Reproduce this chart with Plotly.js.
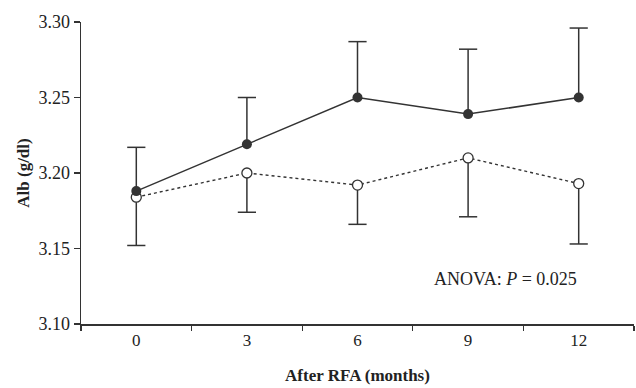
<!DOCTYPE html>
<html>
<head>
<meta charset="utf-8">
<script src="https://cdn.plot.ly/plotly-3.0.1.min.js"></script>
<style>html,body{margin:0;padding:0;background:#fff;}#chart{width:636px;height:388px;}</style>
</head>
<body>
<div id="chart"></div>
<script>
const months = ["0", "3", "6", "9", "12"];
const filledMean = [3.188, 3.219, 3.250, 3.239, 3.250];
const filledSD = [0.029, 0.031, 0.037, 0.043, 0.046];
const openMean = [3.184, 3.200, 3.192, 3.210, 3.193];
const openSD = [0.032, 0.026, 0.026, 0.039, 0.040];

const ink = "#333333";
const serif = "Liberation Serif, Times New Roman, serif";

function stems(mean, sd, dir) {
  const xs = [], ys = [];
  months.forEach((m, i) => { xs.push(m, m, null); ys.push(mean[i], mean[i] + dir * sd[i], null); });
  return {x: xs, y: ys};
}
function caps(mean, sd, dir) {
  return months.map((m, i) => mean[i] + dir * sd[i]);
}

const fs = stems(filledMean, filledSD, 1);
const os = stems(openMean, openSD, -1);

const traces = [
  {x: fs.x, y: fs.y, mode: "lines", line: {color: ink, width: 1.5}, hoverinfo: "skip", showlegend: false},
  {x: months, y: caps(filledMean, filledSD, 1), mode: "markers", marker: {symbol: "line-ew", size: 13, line: {color: ink, width: 1.5}}, showlegend: false},
  {x: os.x, y: os.y, mode: "lines", line: {color: ink, width: 1.5}, hoverinfo: "skip", showlegend: false},
  {x: months, y: caps(openMean, openSD, -1), mode: "markers", marker: {symbol: "line-ew", size: 13, line: {color: ink, width: 1.5}}, showlegend: false},
  {x: months, y: openMean, mode: "lines+markers", line: {color: ink, width: 1.4, dash: "3px,3px"},
   marker: {symbol: "circle", size: 10, color: "#ffffff", line: {color: ink, width: 1.3}}, showlegend: false},
  {x: months, y: filledMean, mode: "lines+markers", line: {color: ink, width: 1.5},
   marker: {symbol: "circle", size: 10, color: ink}, showlegend: false}
];

const layout = {
  width: 636, height: 388,
  margin: {l: 81, r: 2, t: 22, b: 64},
  paper_bgcolor: "#ffffff", plot_bgcolor: "#ffffff",
  font: {family: serif, color: "#222", size: 17},
  xaxis: {
    type: "category", categoryorder: "array", categoryarray: months,
    range: [-0.5, 4.5], tickson: "boundaries", ticks: "outside", ticklen: 5, tickwidth: 1.2, tickcolor: ink,
    showline: true, linecolor: ink, linewidth: 1.5, showgrid: false, zeroline: false,
    tickfont: {family: serif, size: 17, color: "#222"},
    title: {text: "<b>After RFA (months)</b>", font: {family: serif, size: 17, color: "#222"}, standoff: 20}
  },
  yaxis: {
    range: [3.10, 3.30], tickvals: [3.10, 3.15, 3.20, 3.25, 3.30], tickformat: ".2f",
    ticks: "outside", ticklen: 6, tickwidth: 1.2, tickcolor: ink,
    showline: true, linecolor: ink, linewidth: 1.5, showgrid: false, zeroline: false,
    tickfont: {family: serif, size: 18, color: "#222"},
    title: {text: "<b>Alb (g/dl)</b>", font: {family: serif, size: 17, color: "#222"}, standoff: 4}
  },
  annotations: [{
    x: 4, y: 3.13, xref: "x", yref: "y", xanchor: "right", yanchor: "middle", showarrow: false,
    text: "ANOVA: <i>P</i> = 0.025", font: {family: serif, size: 18, color: "#222"}
  }]
};

Plotly.newPlot("chart", traces, layout, {displayModeBar: false, staticPlot: true});
</script>
</body>
</html>
